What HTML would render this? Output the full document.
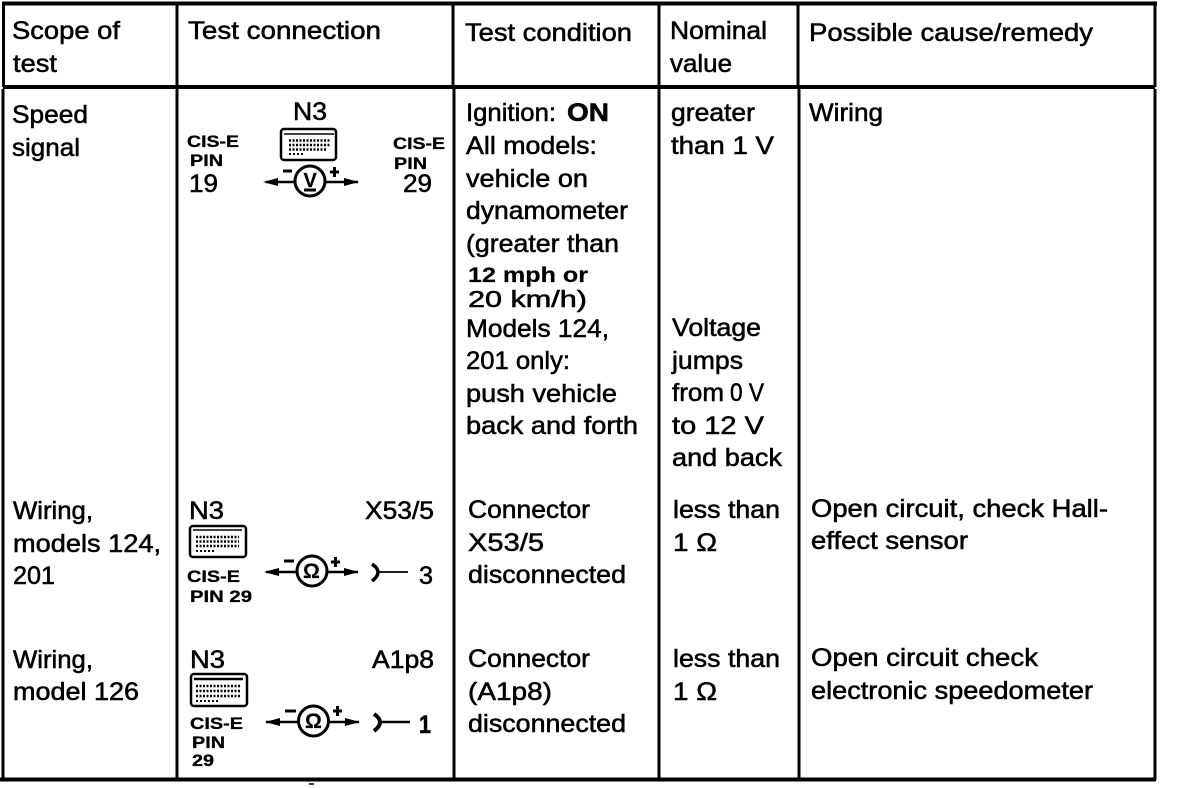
<!DOCTYPE html>
<html><head><meta charset="utf-8"><style>
html,body{margin:0;padding:0;background:#fff}
svg{display:block}
text{font-family:"Liberation Sans",sans-serif;font-size:25px;fill:#000;stroke:#000;stroke-width:.55px}
.s{font-size:17px;font-weight:bold;stroke-width:.3px}
.m{font-size:21px;font-weight:bold;stroke-width:.2px}
</style></head><body>
<svg width="1184" height="788" viewBox="0 0 1184 788" xmlns="http://www.w3.org/2000/svg">
<rect width="1184" height="788" fill="#fff"/>
<g stroke="#000" fill="none">
<path d="M2 3.5H1157" stroke-width="4"/>
<path d="M3 87H1155" stroke-width="4"/>
<path d="M0 779.5H1156" stroke-width="4"/>
<path d="M3.5 3V87M3 89V780" stroke-width="3"/>
<path d="M177 3V87M177 89V780" stroke-width="3"/>
<path d="M453 3V87M454 89V780" stroke-width="3"/>
<path d="M659 3V87M659 89V780" stroke-width="3"/>
<path d="M798 3V87M799 89V780" stroke-width="3"/>
<path d="M1155 3V87M1155 89V780" stroke-width="3"/>
</g>
<text lengthAdjust="spacingAndGlyphs" x="12" y="39" textLength="108">Scope of</text>
<text lengthAdjust="spacingAndGlyphs" x="13" y="72" textLength="44">test</text>
<text lengthAdjust="spacingAndGlyphs" x="188" y="39" textLength="193">Test connection</text>
<text lengthAdjust="spacingAndGlyphs" x="465" y="41" textLength="167">Test condition</text>
<text lengthAdjust="spacingAndGlyphs" x="670" y="39" textLength="97">Nominal</text>
<text lengthAdjust="spacingAndGlyphs" x="670" y="72" textLength="62">value</text>
<text lengthAdjust="spacingAndGlyphs" x="809" y="41" textLength="284">Possible cause/remedy</text>

<text lengthAdjust="spacingAndGlyphs" x="12" y="123" textLength="76">Speed</text>
<text lengthAdjust="spacingAndGlyphs" x="12" y="156" textLength="68">signal</text>
<text lengthAdjust="spacingAndGlyphs" x="13" y="519" textLength="80">Wiring,</text>
<text lengthAdjust="spacingAndGlyphs" x="13" y="552" textLength="148">models 124,</text>
<text lengthAdjust="spacingAndGlyphs" x="13" y="584" textLength="42">201</text>
<text lengthAdjust="spacingAndGlyphs" x="13" y="668" textLength="80">Wiring,</text>
<text lengthAdjust="spacingAndGlyphs" x="13" y="700" textLength="126">model 126</text>

<text lengthAdjust="spacingAndGlyphs" x="466" y="121" textLength="90">Ignition:</text>
<text lengthAdjust="spacingAndGlyphs" x="567" y="121" textLength="42" font-weight="bold">ON</text>
<text lengthAdjust="spacingAndGlyphs" x="466" y="154" textLength="131">All models:</text>
<text lengthAdjust="spacingAndGlyphs" x="466" y="187" textLength="122">vehicle on</text>
<text lengthAdjust="spacingAndGlyphs" x="466" y="219" textLength="162">dynamometer</text>
<text lengthAdjust="spacingAndGlyphs" x="466" y="252" textLength="153">(greater than</text>
<text lengthAdjust="spacingAndGlyphs" x="468" y="282" class="m" textLength="120">12 mph  or</text>
<text lengthAdjust="spacingAndGlyphs" x="468" y="307" textLength="119" style="font-size:23px">20 km/h)</text>
<text lengthAdjust="spacingAndGlyphs" x="466" y="337" textLength="143">Models 124,</text>
<text lengthAdjust="spacingAndGlyphs" x="466" y="369" textLength="104">201 only:</text>
<text lengthAdjust="spacingAndGlyphs" x="466" y="402" textLength="151">push vehicle</text>
<text lengthAdjust="spacingAndGlyphs" x="466" y="434" textLength="172">back and forth</text>
<text lengthAdjust="spacingAndGlyphs" x="468" y="518" textLength="122">Connector</text>
<text lengthAdjust="spacingAndGlyphs" x="468" y="551" textLength="76">X53/5</text>
<text lengthAdjust="spacingAndGlyphs" x="468" y="583" textLength="158">disconnected</text>
<text lengthAdjust="spacingAndGlyphs" x="468" y="667" textLength="122">Connector</text>
<text lengthAdjust="spacingAndGlyphs" x="468" y="700" textLength="84">(A1p8)</text>
<text lengthAdjust="spacingAndGlyphs" x="468" y="732" textLength="158">disconnected</text>

<text lengthAdjust="spacingAndGlyphs" x="671" y="121" textLength="84">greater</text>
<text lengthAdjust="spacingAndGlyphs" x="671" y="154" textLength="103">than 1 V</text>
<text lengthAdjust="spacingAndGlyphs" x="672" y="336" textLength="89">Voltage</text>
<text lengthAdjust="spacingAndGlyphs" x="672" y="369" textLength="71">jumps</text>
<text lengthAdjust="spacingAndGlyphs" x="672" y="401" textLength="52">from</text>
<text lengthAdjust="spacingAndGlyphs" x="730" y="401" textLength="34">0 V</text>
<text lengthAdjust="spacingAndGlyphs" x="672" y="434" textLength="92">to 12 V</text>
<text lengthAdjust="spacingAndGlyphs" x="672" y="466" textLength="110">and back</text>
<text lengthAdjust="spacingAndGlyphs" x="673" y="518" textLength="107">less than</text>
<text lengthAdjust="spacingAndGlyphs" x="673" y="551" textLength="44">1 Ω</text>
<text lengthAdjust="spacingAndGlyphs" x="673" y="667" textLength="107">less than</text>
<text lengthAdjust="spacingAndGlyphs" x="673" y="700" textLength="44">1 Ω</text>

<text lengthAdjust="spacingAndGlyphs" x="809" y="121" textLength="74">Wiring</text>
<text lengthAdjust="spacingAndGlyphs" x="811" y="517" textLength="297">Open circuit, check Hall-</text>
<text lengthAdjust="spacingAndGlyphs" x="811" y="549" textLength="157">effect sensor</text>
<text lengthAdjust="spacingAndGlyphs" x="811" y="666" textLength="227">Open circuit check</text>
<text lengthAdjust="spacingAndGlyphs" x="811" y="699" textLength="282">electronic speedometer</text>

<text lengthAdjust="spacingAndGlyphs" x="293" y="120" textLength="34">N3</text>
<text lengthAdjust="spacingAndGlyphs" x="187" y="147" class="s" textLength="52">CIS-E</text>
<text lengthAdjust="spacingAndGlyphs" x="190" y="166" class="s" textLength="33">PIN</text>
<text lengthAdjust="spacingAndGlyphs" x="189" y="192" textLength="29">19</text>
<text lengthAdjust="spacingAndGlyphs" x="393" y="149" class="s" textLength="52">CIS-E</text>
<text lengthAdjust="spacingAndGlyphs" x="394" y="169" class="s" textLength="33">PIN</text>
<text lengthAdjust="spacingAndGlyphs" x="403" y="192" textLength="29">29</text>
<text lengthAdjust="spacingAndGlyphs" x="189" y="519" textLength="35">N3</text>
<text lengthAdjust="spacingAndGlyphs" x="365" y="519" textLength="69">X53/5</text>
<text lengthAdjust="spacingAndGlyphs" x="187" y="582" class="s" textLength="53">CIS-E</text>
<text lengthAdjust="spacingAndGlyphs" x="190" y="602" class="s" textLength="62">PIN 29</text>
<text lengthAdjust="spacingAndGlyphs" x="419" y="584" textLength="14">3</text>
<text lengthAdjust="spacingAndGlyphs" x="190" y="668" textLength="35">N3</text>
<text lengthAdjust="spacingAndGlyphs" x="372" y="668" textLength="62">A1p8</text>
<text lengthAdjust="spacingAndGlyphs" x="190" y="729" class="s" textLength="53">CIS-E</text>
<text lengthAdjust="spacingAndGlyphs" x="192" y="748" class="s" textLength="33">PIN</text>
<text lengthAdjust="spacingAndGlyphs" x="192" y="766" class="s" textLength="22">29</text>
<text lengthAdjust="spacingAndGlyphs" x="419" y="733" textLength="12" font-weight="bold">1</text>
<g fill="none" stroke="#000">
<rect x="281" y="129" width="55" height="31" rx="3" stroke-width="2.5"/>
<path d="M284 134H334" stroke-width="1.5"/>
<path d="M289 140.500H331M289 145H331M289 149.500H327" stroke-width="2.5" stroke-dasharray="2 1.500"/>
<path d="M289 154H305" stroke-width="2" stroke-dasharray="2 2"/>
<circle cx="310" cy="181" r="15" stroke-width="3"/>
<path d="M266 182H295M325 182H358" stroke-width="2.500"/>
<path d="M283 171H292M304 190H316" stroke-width="3"/>
<rect x="190" y="526" width="56" height="31" rx="3" stroke-width="2.5"/>
<path d="M193 530H242" stroke-width="1.500"/>
<path d="M196 537H239M196 541.500H239M196 546H239" stroke-width="2.5" stroke-dasharray="2 1.500"/>
<path d="M196 551H214" stroke-width="2" stroke-dasharray="2 2"/>
<circle cx="312" cy="571" r="15" stroke-width="3"/>
<path d="M266 572H297M327 572H358" stroke-width="2.500"/>
<path d="M284 561H294" stroke-width="3"/>
<path d="M372 564Q384 572 372 581" stroke-width="3.500"/>
<path d="M379 572H408" stroke-width="1.800"/>
<rect x="191" y="674" width="56" height="32" rx="3" stroke-width="2.5"/>
<path d="M194 679H243" stroke-width="2.500"/>
<path d="M196 686H240M196 691H240M196 696H240" stroke-width="2.5" stroke-dasharray="2 1.500"/>
<path d="M196 701H218" stroke-width="2" stroke-dasharray="2 2"/>
<circle cx="313.500" cy="721" r="15" stroke-width="3"/>
<path d="M266 722H299M328 722H359" stroke-width="2.500"/>
<path d="M285 711H296" stroke-width="3"/>
<path d="M374 714Q386 722 374 731" stroke-width="4"/>
<path d="M381 722H410" stroke-width="2.500"/>
</g>
<path d="M263 182L278 178V186Z M359 182L344 178V186Z"/>
<text x="303.500" y="187" class="m" style="font-size:20px">V</text>
<path d="M330 172H339M334.500 167V177" stroke="#000" stroke-width="3"/>
<path d="M264 572L279 568V576Z M359 572L344 568V576Z"/>
<text x="303" y="578" class="m" style="font-size:21px">Ω</text>
<path d="M331 562H340M335.500 557V567" stroke="#000" stroke-width="3"/>
<path d="M265 722L280 718V726Z M360 722L345 718V726Z"/>
<text x="305" y="728" class="m" style="font-size:21px">Ω</text>
<path d="M333 711H342M337.500 706V716" stroke="#000" stroke-width="3"/>
<path d="M309 784h5" stroke="#000" stroke-width="1.5"/>
</svg>
</body></html>
